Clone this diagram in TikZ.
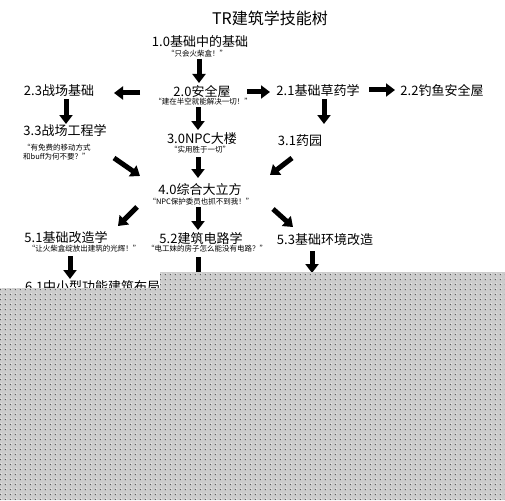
\documentclass[tikz,border=0pt]{standalone}
\usepackage{fontspec}
\setmainfont{Noto Sans CJK SC}
\usetikzlibrary{arrows.meta,patterns.meta}
\tikzdeclarepattern{name=darkdots, type=uncolored, bounding box={(0,0) and (5pt,5pt)}, tile size={(5pt,5pt)},
  code={\pgfpathrectangle{\pgfpoint{1pt}{1pt}}{\pgfpoint{1.1pt}{1.1pt}}\pgfusepath{fill}}}
\tikzdeclarepattern{name=lightdots, type=uncolored, bounding box={(0,0) and (5pt,5pt)}, tile size={(5pt,5pt)},
  code={\pgfpathrectangle{\pgfpoint{2.1pt}{2.1pt}}{\pgfpoint{1pt}{1pt}}\pgfusepath{fill}}}
\tikzset{
  lab/.style={font=\fontsize{13}{14}\selectfont, inner sep=0pt},
  ttl/.style={font=\fontsize{16}{18}\selectfont, inner sep=0pt},
  sub/.style={font=\fontsize{7.5}{9}\selectfont, inner sep=0pt},
  blk/.style={line width=5pt, -{Triangle[length=9pt,width=13pt]}},
}
\begin{document}
\begin{tikzpicture}[x=1pt,y=-1pt]
\useasboundingbox (0,0) rectangle (505,500);
\fill[white] (0,0) rectangle (505,500);
% texts
\node[ttl] (title) at (270,18) {TR建筑学技能树};
\node[lab] (n10) at (200,42) {1.0基础中的基础};
\node[sub] (s10) at (197,54) {“只会火柴盒！”};
\node[lab] (n20) at (202,91) {2.0安全屋};
\node[sub] (s20) at (203,102) {“建在半空就能解决一切！”};
\node[lab] (n23) at (59,91) {2.3战场基础};
\node[lab] (n21) at (318,90) {2.1基础草药学};
\node[lab] (n22) at (442,90) {2.2钓鱼安全屋};
\node[lab] (n31) at (300,141) {3.1药园};
\node[lab] (n33) at (65,131) {3.3战场工程学};
\node[sub, anchor=north west, align=left] (s33) at (23,144) {“有免费的移动方式\\[0pt]和buff为何不要？”};
\node[lab] (n30) at (202,139) {3.0NPC大楼};
\node[sub] (s30) at (200,150) {“实用胜于一切”};
\node[lab] (n40) at (200,190) {4.0综合大立方};
\node[sub] (s40) at (201,202) {“NPC保护委员也抓不到我！”};
\node[lab] (n51) at (66,238) {5.1基础改造学};
\node[sub] (s51) at (84,249) {“让火柴盒绽放出建筑的光辉！”};
\node[lab] (n52) at (201,238) {5.2建筑电路学};
\node[sub] (s52) at (207,249) {“电工妹的房子怎么能没有电路？”};
\node[lab] (n53) at (325,240) {5.3基础环境改造};
\node[lab, anchor=west] (n61) at (25,287) {6.1中小型功能建筑布局};
% arrow end points
\coordinate (a1s) at (199,59);  \coordinate (a1e) at (199,83);
\coordinate (a2s) at (247,92);  \coordinate (a2e) at (270,92);
\coordinate (a3s) at (140,93);  \coordinate (a3e) at (114,93);
\coordinate (a4s) at (369,90);  \coordinate (a4e) at (395,90);
\coordinate (a5s) at (324,99);  \coordinate (a5e) at (324,124);
\coordinate (a6s) at (66,99);   \coordinate (a6e) at (66,124);
\coordinate (a7s) at (198,107); \coordinate (a7e) at (198,130);
\coordinate (a8s) at (198,157); \coordinate (a8e) at (198,178);
\coordinate (a9s) at (114,158); \coordinate (a9e) at (140,176);
\coordinate (a10s) at (292,158); \coordinate (a10e) at (270,175);
\coordinate (a11s) at (137,207); \coordinate (a11e) at (118,226);
\coordinate (a12s) at (198,207); \coordinate (a12e) at (198,230);
\coordinate (a13s) at (273,209); \coordinate (a13e) at (293,227);
\coordinate (a14s) at (70,256); \coordinate (a14e) at (70,279);
\coordinate (a15s) at (198,257); \coordinate (a15e) at (198,281);
\coordinate (a16s) at (312,251); \coordinate (a16e) at (312,273);
\draw[blk] (a1s) -- (a1e);
\draw[blk] (a2s) -- (a2e);
\draw[blk] (a3s) -- (a3e);
\draw[blk] (a4s) -- (a4e);
\draw[blk] (a5s) -- (a5e);
\draw[blk] (a6s) -- (a6e);
\draw[blk] (a7s) -- (a7e);
\draw[blk] (a8s) -- (a8e);
\draw[blk] (a9s) -- (a9e);
\draw[blk] (a10s) -- (a10e);
\draw[blk] (a11s) -- (a11e);
\draw[blk] (a12s) -- (a12e);
\draw[blk] (a13s) -- (a13e);
\draw[blk] (a14s) -- (a14e);
\draw[blk] (a15s) -- (a15e);
\draw[blk] (a16s) -- (a16e);
% dotted grey overlay
\path[fill={rgb,255:red,204;green,204;blue,204}] (160,272) -- (505,272) -- (505,500) -- (0,500) -- (0,288) -- (160,288) -- cycle;
\path[pattern=darkdots, pattern color={rgb,255:red,90;green,90;blue,90}] (160,272) -- (505,272) -- (505,500) -- (0,500) -- (0,288) -- (160,288) -- cycle;
\path[pattern=lightdots, pattern color=white] (160,272) -- (505,272) -- (505,500) -- (0,500) -- (0,288) -- (160,288) -- cycle;
\end{tikzpicture}
\end{document}
